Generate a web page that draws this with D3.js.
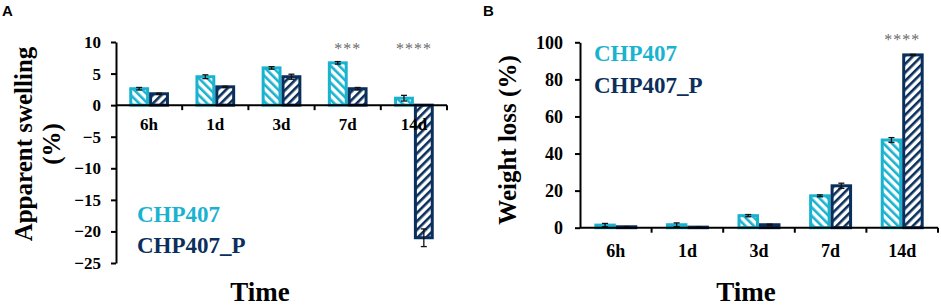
<!DOCTYPE html>
<html>
<head>
<meta charset="utf-8">
<script src="https://cdn.jsdelivr.net/npm/d3@7"></script>
<style>
  body { margin: 0; background: #fff; }
  svg { display: block; }
  text { font-family: "Liberation Serif", "Times New Roman", serif; font-weight: bold; }
</style>
</head>
<body>
<div id="chart"></div>
<script>
const categories = ["6h", "1d", "3d", "7d", "14d"];
const series = ["CHP407", "CHP407_P"];

// panel A: apparent swelling (%)
const swellCHP = [2.6, 4.5, 5.9, 6.7, 1.1];
const swellCHP_err = [0.2, 0.3, 0.2, 0.2, 0.45];
const swellP = [1.8, 2.9, 4.5, 2.6, -21];
const swellP_err = [0.1, 0.1, 0.4, 0.2, 1.4];
const swellTicks = [10, 5, 0, -5, -10, -15, -20, -25];
const swellStars = ["", "", "", "***", "****"];

// panel B: weight loss (%)
const lossCHP = [1.4, 1.6, 6.5, 17.2, 47.3];
const lossCHP_err = [0.9, 1.0, 0.6, 0.5, 1.3];
const lossP = [0.5, 0.3, 1.6, 22.6, 93.2];
const lossP_err = [0.1, 0.1, 0.3, 1.4, 0.3];
const lossTicks = [0, 20, 40, 60, 80, 100];
const lossStars = ["", "", "", "", "****"];

const colors = {"CHP407": "#1ab3cf", "CHP407_P": "#0b2f5c"};

const svg = d3.select("#chart").append("svg")
  .attr("width", 941).attr("height", 308);

const defs = svg.append("defs");
function stripe(id, color, angle) {
  const p = defs.append("pattern")
    .attr("id", id)
    .attr("patternUnits", "userSpaceOnUse")
    .attr("width", 6).attr("height", 6)
    .attr("patternTransform", "rotate(" + angle + ")");
  p.append("rect").attr("width", 6).attr("height", 6).attr("fill", "#fff");
  p.append("rect").attr("width", 2.6).attr("height", 6).attr("fill", color);
}
stripe("pat-a", colors["CHP407"], -45);
stripe("pat-b", colors["CHP407_P"], 45);
const fills = {"CHP407": "url(#pat-a)", "CHP407_P": "url(#pat-b)"};

function drawPanel(opt) {
  const g = svg.append("g");
  const x = d3.scaleBand().domain(categories).range(opt.xr);
  const x1 = d3.scaleBand().domain(series)
    .range([x.bandwidth() * 0.2, x.bandwidth() * 0.8]);
  const y = d3.scaleLinear().domain(opt.yd).range(opt.yr);

  const rows = [];
  categories.forEach((c, i) => {
    rows.push({cat: c, s: "CHP407", v: opt.a[i], e: opt.ae[i]});
    rows.push({cat: c, s: "CHP407_P", v: opt.b[i], e: opt.be[i]});
  });

  // bars
  g.selectAll(".bar").data(rows).enter().append("rect")
    .attr("class", "bar")
    .attr("x", d => x(d.cat) + x1(d.s) + 1.5)
    .attr("width", x1.bandwidth() - 3)
    .attr("y", d => Math.min(y(d.v), y(0)))
    .attr("height", d => Math.abs(y(d.v) - y(0)))
    .attr("fill", d => fills[d.s])
    .attr("stroke", d => colors[d.s])
    .attr("stroke-width", 3);

  // error bars
  const eb = g.selectAll(".err").data(rows).enter().append("g").attr("class", "err")
    .attr("stroke", "#111").attr("stroke-width", 1.3);
  const cx = d => x(d.cat) + x1(d.s) + x1.bandwidth() / 2;
  eb.append("line").attr("x1", cx).attr("x2", cx)
    .attr("y1", d => y(d.v - d.e)).attr("y2", d => y(d.v + d.e));
  eb.append("line").attr("x1", d => cx(d) - 3).attr("x2", d => cx(d) + 3)
    .attr("y1", d => y(d.v - d.e)).attr("y2", d => y(d.v - d.e));
  eb.append("line").attr("x1", d => cx(d) - 3).attr("x2", d => cx(d) + 3)
    .attr("y1", d => y(d.v + d.e)).attr("y2", d => y(d.v + d.e));

  // y axis
  const ya = g.append("g")
    .attr("transform", "translate(" + opt.xr[0] + ",0)")
    .call(d3.axisLeft(y).tickValues(opt.ticks).tickSize(5).tickPadding(opt.tp).tickSizeOuter(0))
    .attr("font-family", "'Liberation Serif', serif")
    .attr("font-size", opt.tfs);
  ya.select(".domain").attr("stroke", "#000").attr("stroke-width", 2);
  ya.selectAll(".tick line").attr("stroke", "#000").attr("stroke-width", 2);
  ya.selectAll("text")
    .style("font-size", opt.tfs + "px")
    .style("font-family", "'Liberation Serif', serif")
    .style("font-weight", "bold").attr("fill", "#000");

  // x axis line + ticks at band boundaries
  const y0 = y(0);
  g.append("line").attr("x1", opt.xr[0]).attr("x2", opt.xr[1])
    .attr("y1", y0).attr("y2", y0).attr("stroke", "#000").attr("stroke-width", 2);
  const bounds = categories.slice(1).map(c => x(c)).concat([opt.xr[1]]);
  g.selectAll(".xt").data(bounds).enter().append("line")
    .attr("x1", d => d).attr("x2", d => d)
    .attr("y1", y0).attr("y2", y0 + 5)
    .attr("stroke", "#000").attr("stroke-width", 2);
  g.selectAll(".xl").data(categories).enter().append("text")
    .attr("x", d => x(d) + x.bandwidth() / 2)
    .attr("y", y0 + opt.xlo)
    .attr("text-anchor", "middle")
    .style("font-size", opt.xfs + "px")
    .text(d => d);

  // significance
  g.selectAll(".star").data(categories).enter().append("text")
    .attr("x", d => x(d) + x.bandwidth() / 2)
    .attr("y", opt.starY)
    .attr("text-anchor", "middle")
    .attr("fill", "#6a6a6a")
    .style("font-size", "16px")
    .style("font-weight", "normal")
    .style("letter-spacing", "1px")
    .text((d, i) => opt.stars[i]);

  // legend
  series.forEach((s, i) => {
    g.append("text").attr("x", opt.legX).attr("y", opt.legY[i])
      .attr("fill", colors[s]).style("font-size", "23px").text(s);
  });

  // axis titles
  g.append("text").attr("x", opt.timeX).attr("y", 301)
    .attr("text-anchor", "middle").style("font-size", "27px").text("Time");
  opt.ytitle.forEach((t, i) => {
    g.append("text")
      .attr("transform", "translate(" + opt.ytX[i] + "," + opt.ytY + ") rotate(-90)")
      .attr("text-anchor", "middle").style("font-size", "25px").text(t);
  });

  g.append("text").attr("x", opt.letterX).attr("y", 16)
    .style("font-family", "Liberation Sans, Arial, sans-serif")
    .style("font-size", "15px").text(opt.letter);
}

drawPanel({
  xr: [116, 447], yd: [-25, 10], yr: [263, 42], ticks: swellTicks, tp: 10, tfs: 17,
  a: swellCHP, ae: swellCHP_err, b: swellP, be: swellP_err,
  stars: swellStars, starY: 54, xlo: 25, xfs: 17,
  legX: 137, legY: [222, 253],
  timeX: 260, ytitle: ["Apparent swelling", "(%)"], ytX: [32, 60], ytY: 144,
  letter: "A", letterX: 2
});

drawPanel({
  xr: [580, 938], yd: [0, 100], yr: [227.7, 42.3], ticks: lossTicks, tp: 12, tfs: 18,
  a: lossCHP, ae: lossCHP_err, b: lossP, be: lossP_err,
  stars: lossStars, starY: 45, xlo: 29, xfs: 18,
  legX: 594, legY: [61, 93],
  timeX: 746, ytitle: ["Weight loss (%)"], ytX: [516], ytY: 140,
  letter: "B", letterX: 483
});
</script>
</body>
</html>
